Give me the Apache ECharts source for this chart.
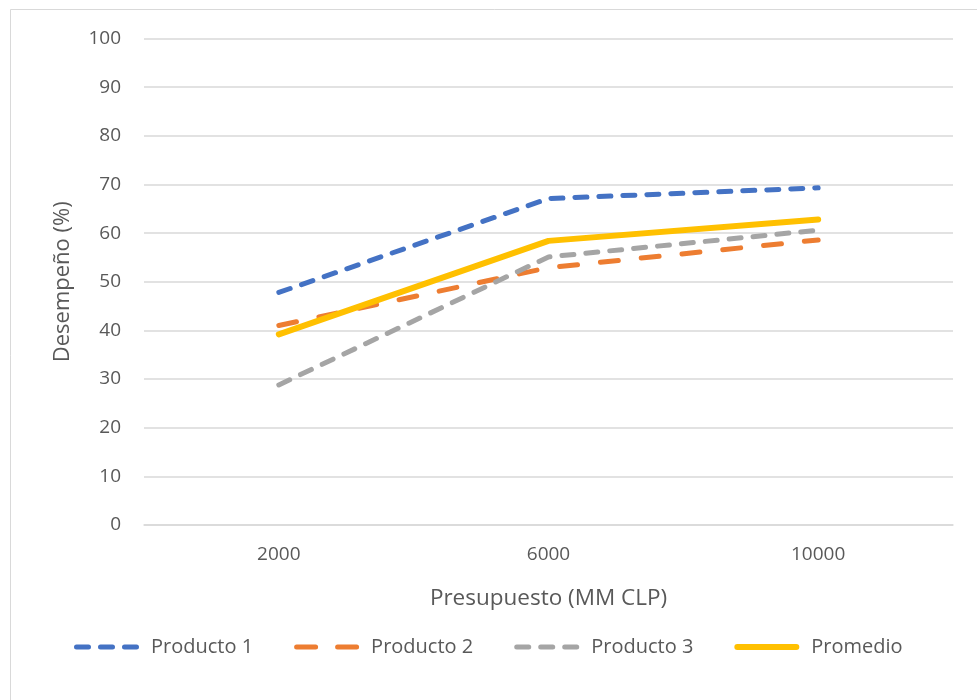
<!DOCTYPE html>
<html>
<head>
<meta charset="utf-8">
<script src="https://cdn.jsdelivr.net/npm/echarts@6/dist/echarts.min.js"></script>
<style>
  html, body { margin: 0; padding: 0; background: #ffffff; }
  #chart { width: 977px; height: 700px; }
</style>
</head>
<body>
<div id="chart"></div>
<script>
// Budget levels (MM CLP) and performance (%) per product
const categories = ['2000', '6000', '10000'];
const producto1 = [47.8, 67.1, 69.3];
const producto2 = [41.0, 52.9, 58.6];
const producto3 = [28.8, 55.1, 60.6];
const promedio  = [39.2, 58.4, 62.8];
const seriesNames = ['Producto 1', 'Producto 2', 'Producto 3', 'Promedio'];
const yTicks = { min: 0, max: 100, interval: 10 };

const textColor = '#595959';
const fontFamily = '"Open Sans", "Noto Sans", sans-serif';

// Rounded-dash path used as a legend key: segments given as [start, end] along a 65px strip
function dashIcon(segments, h) {
  const r = h / 2;
  let d = '';
  segments.forEach(([a, b]) => {
    d += `M${a + r} 0 H${b - r} A${r} ${r} 0 0 1 ${b - r} ${h} H${a + r} A${r} ${r} 0 0 1 ${a + r} 0 Z `;
  });
  return 'path://' + d.trim();
}
const iconShortDash = dashIcon([[0, 17], [24, 41], [48, 65]], 5);
const iconLongDash = dashIcon([[0, 24], [41, 65]], 5);
const iconSolid = dashIcon([[0, 65]], 6);

const chart = echarts.init(document.getElementById('chart'));

function lineSeries(name, data, color, dash, width) {
  return {
    name, type: 'line', data,
    showSymbol: false, symbol: 'none',
    lineStyle: { color, width, type: dash, cap: 'round' },
    itemStyle: { color },
    z: dash === 'solid' ? 3 : 2
  };
}

chart.setOption({
  animation: false,
  backgroundColor: '#ffffff',
  textStyle: { fontFamily },
  graphic: [{
    type: 'rect',
    shape: { x: 10.5, y: 9.5, width: 1000, height: 1000 },
    style: { fill: 'none', stroke: '#d9d9d9', lineWidth: 1 },
    silent: true
  }],
  grid: { left: 144, right: 24, top: 38.5, bottom: 175 },
  xAxis: {
    type: 'category',
    data: categories,
    boundaryGap: true,
    name: 'Presupuesto (MM CLP)',
    nameLocation: 'middle',
    nameGap: 62,
    nameTextStyle: { color: textColor, fontSize: 22.5, fontFamily },
    axisLine: { show: true, lineStyle: { color: '#d9d9d9', width: 1.5 } },
    axisTick: { show: false },
    axisLabel: { color: textColor, fontSize: 19, margin: 20, fontFamily }
  },
  yAxis: {
    type: 'value',
    min: yTicks.min, max: yTicks.max, interval: yTicks.interval,
    name: 'Desempeño (%)',
    nameLocation: 'middle',
    nameGap: 70,
    nameRotate: 90,
    nameTextStyle: { color: textColor, fontSize: 22, fontFamily },
    axisLine: { show: false },
    axisTick: { show: false },
    axisLabel: { color: textColor, fontSize: 19, margin: 23, fontFamily },
    splitLine: { lineStyle: { color: '#d9d9d9', width: 1.5 } }
  },
  legend: {
    bottom: 38,
    left: 69,
    itemWidth: 65,
    itemHeight: 6,
    itemGap: 41,
    textStyle: { color: textColor, fontSize: 20, fontFamily, padding: [0, 0, 0, 7] },
    data: [
      { name: seriesNames[0], icon: iconShortDash },
      { name: seriesNames[1], icon: iconLongDash },
      { name: seriesNames[2], icon: iconShortDash },
      { name: seriesNames[3], icon: iconSolid }
    ]
  },
  series: [
    lineSeries(seriesNames[0], producto1, '#4472C4', [12, 12], 5),
    lineSeries(seriesNames[1], producto2, '#ED7D31', [18, 23], 5),
    lineSeries(seriesNames[2], producto3, '#A5A5A5', [12, 12], 5),
    lineSeries(seriesNames[3], promedio, '#FFC000', 'solid', 6)
  ]
});
</script>
</body>
</html>
